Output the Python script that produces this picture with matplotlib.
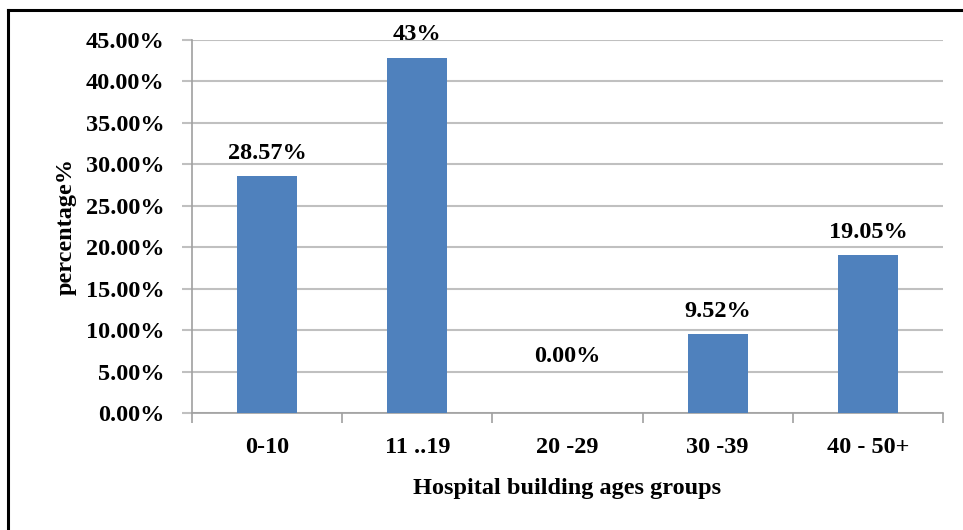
import matplotlib.pyplot as plt
from matplotlib.lines import Line2D
import numpy as np

# data
groups = ['0-10', '11 ..19', '20 -29', '30 -39', '40 - 50+']
percent = [28.57, 42.86, 0.0, 9.52, 19.05]
bar_labels = ['28.57%', '43%', '0.00%', '9.52%', '19.05%']

plt.rcParams['font.family'] = ['Liberation Serif', 'DejaVu Serif']
plt.rcParams['font.weight'] = 'bold'

fs = 17.5

fig = plt.figure(figsize=(9.63, 5.30), dpi=100)
ax = fig.add_axes([192 / 963, 117 / 530, 751 / 963, 373 / 530])

x = np.arange(len(groups))
bars = ax.bar(x, percent, width=0.4, color='#4F81BD', zorder=3)

# value labels above the bars (the zero one sits higher in the original)
for xi, v, lab in zip(x, percent, bar_labels):
    off = 33 if v == 0 else 9
    ax.annotate(lab, (xi, v), xytext=(0, off), textcoords='offset points',
                ha='center', va='bottom', fontsize=fs, fontweight='bold')

ax.set_xlim(-0.5, len(groups) - 0.5)
ax.set_ylim(0, 45)
ax.set_yticks(np.arange(0, 46, 5))
ax.set_yticklabels([f'{t:.2f}%' for t in np.arange(0, 46, 5)], fontsize=fs)
ax.yaxis.grid(True, color='#C0C0C0', linewidth=1.5, zorder=0)

# ticks at category boundaries, labels at centres
ax.set_xticks(np.arange(-0.5, len(groups)))
ax.set_xticklabels([])
ax.set_xticks(x, minor=True)
ax.set_xticklabels(groups, minor=True, fontsize=fs)
ax.tick_params(axis='x', which='minor', length=0, pad=17)
ax.tick_params(axis='x', which='major', length=7, color='#A0A0A0', width=1.2)
ax.tick_params(axis='y', length=7, color='#C0C0C0', width=1.5, pad=13)

for s in ['top', 'right']:
    ax.spines[s].set_visible(False)
for s in ['left', 'bottom']:
    ax.spines[s].set_color('#A0A0A0')
    ax.spines[s].set_linewidth(1.2)

ax.set_xlabel('Hospital building ages groups', fontsize=fs, fontweight='bold', labelpad=15)
ax.set_ylabel('percentage%', fontsize=fs, fontweight='bold', labelpad=6)

# frame around the picture (left and top edges only)
fig.add_artist(Line2D([8 / 963, 8 / 963], [0, 1 - 10 / 530], color='black', linewidth=2.2))
fig.add_artist(Line2D([8 / 963, 1], [1 - 10 / 530, 1 - 10 / 530], color='black', linewidth=2.2))

fig.savefig('out.png', dpi=100)
